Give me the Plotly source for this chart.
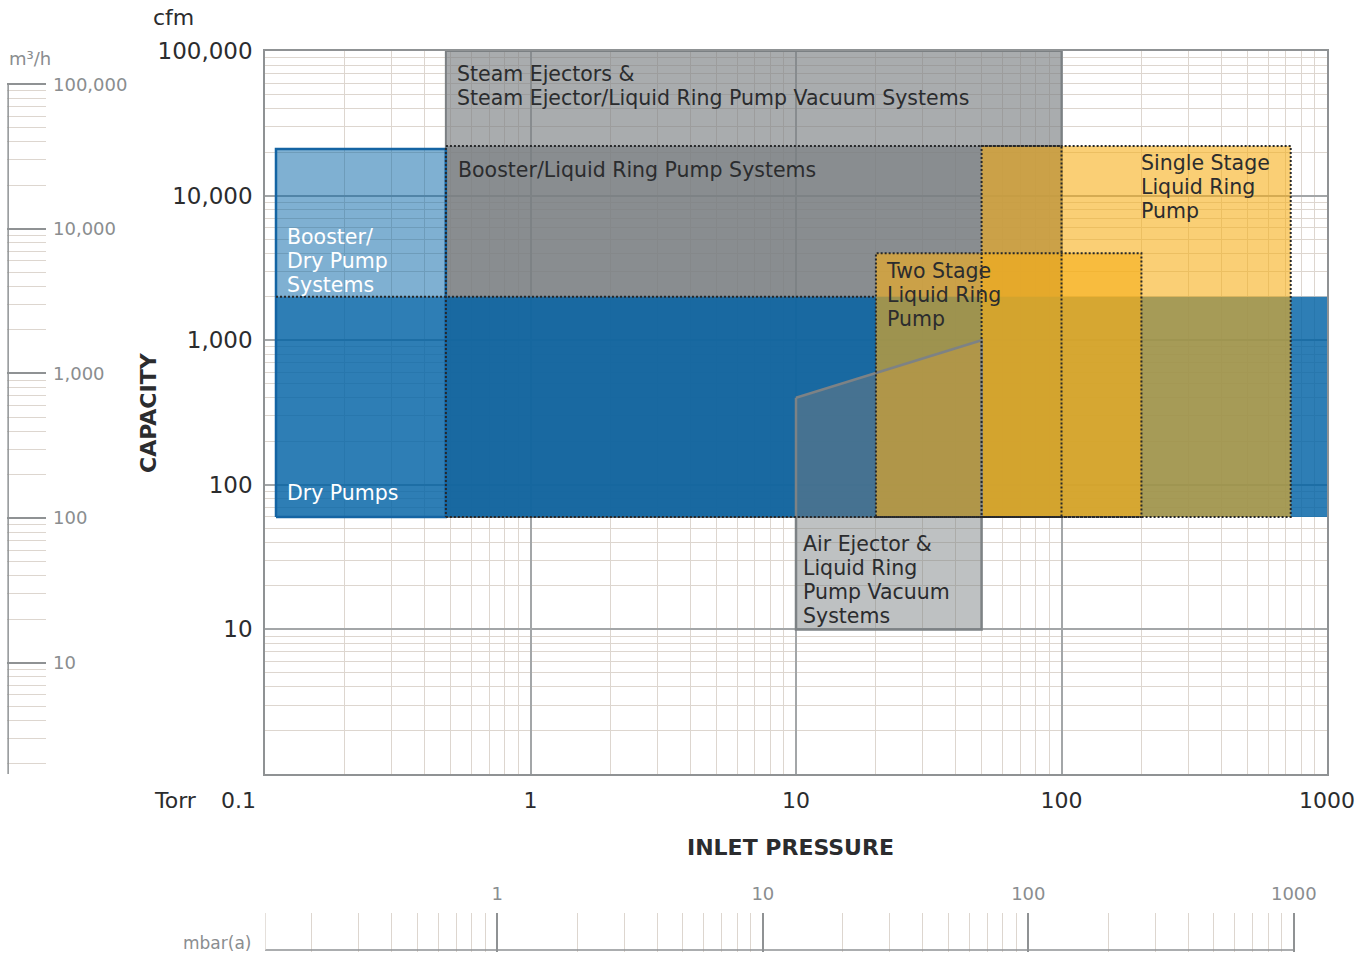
import math
import plotly.graph_objects as go

# Operating envelopes: inlet pressure range (Torr) and capacity range (cfm)
steam_p = [0.48, 100]
steam_q = [60, 100000]
blrp_p = [0.48, 100]
blrp_q = [60, 22000]
bdry_p = [0.11, 0.48]
bdry_q = [2000, 21000]
dry_p = [0.11, 1000]
dry_q = [60, 2000]
single_p = [50, 730]
single_q = [60, 22000]
two_p = [20, 200]
two_q = [60, 4000]
air_p = [10, 50, 50, 10, 10]
air_q = [400, 1000, 10, 10, 400]

# Axis extents and unit conversions
torr_range = [0.1, 1000]
cfm_range = [1, 100000]
CFM_TO_M3H = 1.699
TORR_TO_MBAR = 1.33322

W, H = 1370, 955
FONT = "DejaVu Sans"
DARK = "#2b2c2e"
GREY_TXT = "#8a8d8f"
GRID_MAJOR = "#a3a6a8"
GRID_MINOR = "#ddd6cf"
AXIS_LINE = "#8f9294"


def px(x):
    return x / W


def py(y):
    return 1 - y / H


def rect(p, q):
    return [p[0], p[1], p[1], p[0], p[0]], [q[0], q[0], q[1], q[1], q[0]]


fig = go.Figure()


def area(p, q, fill, line_color=None, line_width=0, dash="solid"):
    xs, ys = (p, q) if len(p) > 2 else rect(p, q)
    fig.add_trace(go.Scatter(
        x=xs, y=ys, mode="lines", fill="toself" if fill else None,
        fillcolor=fill, hoverinfo="skip", showlegend=False,
        line=dict(color=line_color or "rgba(0,0,0,0)", width=line_width, dash=dash),
    ))


GREY = "120,125,128"
BLUE = "0,97,165"
ORANGE = "246,175,25"

# filled envelopes, back to front
area(steam_p, steam_q, f"rgba({GREY},0.64)", "#7b8083", 2)
area(blrp_p, blrp_q, f"rgba({GREY},0.65)")
area(dry_p, dry_q, f"rgba({BLUE},0.82)")
area(bdry_p, bdry_q, f"rgba({BLUE},0.5)")
area(air_p, air_q, f"rgba({GREY},0.48)")
area(single_p, single_q, f"rgba({ORANGE},0.6)")
area(two_p, two_q, f"rgba({ORANGE},0.6)")

# outlines
area(air_p, air_q, None, "#7d8285", 2.5)
area(bdry_p, [dry_q[0], bdry_q[1]], None, "#1464a3", 2.5)
area(blrp_p, blrp_q, None, "#26282a", 2, "2px,2px")
area(single_p, single_q, None, "#26282a", 2, "2px,2px")
area(two_p, two_q, None, "#26282a", 2, "2px,2px")
fig.add_trace(go.Scatter(
    x=[dry_p[0], two_p[0]], y=[dry_q[1], dry_q[1]], mode="lines",
    hoverinfo="skip", showlegend=False,
    line=dict(color="#26282a", width=2, dash="2px,2px"),
))

# mbar(a) scale baseline and left edge
mb_lo = torr_range[0] * TORR_TO_MBAR
fig.add_trace(go.Scatter(
    x=[mb_lo, 1000], y=[0, 0], xaxis="x2", yaxis="y2", mode="lines",
    hoverinfo="skip", showlegend=False, line=dict(color=AXIS_LINE, width=1.5),
))
fig.add_trace(go.Scatter(
    x=[mb_lo, mb_lo], y=[0, 1], xaxis="x2", yaxis="y2", mode="lines",
    hoverinfo="skip", showlegend=False, line=dict(color=GRID_MINOR, width=1.5),
))

# m3/h scale spine
m3_lo = cfm_range[0] * CFM_TO_M3H
fig.add_trace(go.Scatter(
    x=[0, 0], y=[m3_lo, 100000], xaxis="x3", yaxis="y3", mode="lines",
    hoverinfo="skip", showlegend=False, line=dict(color=AXIS_LINE, width=1.5),
))

LINE_GAP = 24          # px between label lines
GLYPH = 20.5           # label glyph size


# region labels: one text block per envelope, placed by its centre relative to a corner.
# The block's own font size sets the line pitch (1.3 em); glyphs are sized by an inner span.
def label(lines, p, q, dx, center_dy, color=DARK):
    body = "<br>".join(f'<span style="font-size:{GLYPH}px">{t}</span>' for t in lines)
    fig.add_annotation(
        x=math.log10(p), y=math.log10(q), xref="x", yref="y",
        text=body, showarrow=False, xanchor="left", yanchor="middle", align="left",
        xshift=dx, yshift=center_dy,
        font=dict(family=FONT, size=LINE_GAP / 1.3, color=color),
    )


label(["Steam Ejectors &", "Steam Ejector/Liquid Ring Pump Vacuum Systems"],
      steam_p[0], steam_q[1], 9, -35)
label(["Booster/Liquid Ring Pump Systems"], blrp_p[0], blrp_q[1], 10, -24)
label(["Single Stage", "Liquid Ring", "Pump"], two_p[1], single_q[1], -2, -41)
label(["Booster/", "Dry Pump", "Systems"], bdry_p[0], bdry_q[0], 9, 36, "white")
label(["Two Stage", "Liquid Ring", "Pump"], two_p[0], two_q[1], 8, -42)
label(["Dry Pumps"], dry_p[0], dry_q[0], 9, 24, "white")
label(["Air Ejector &", "Liquid Ring", "Pump Vacuum", "Systems"],
      air_p[0], air_q[2], 5, 49)


def ptext(t, x, y, size, color=DARK, xanchor="left", angle=0, bold=False):
    fig.add_annotation(
        x=px(x), y=py(y), xref="paper", yref="paper", text=f"<b>{t}</b>" if bold else t,
        showarrow=False, xanchor=xanchor, yanchor="middle", textangle=angle,
        font=dict(family=FONT, size=size, color=color),
    )


ptext("cfm", 151, 18, 22)
ptext("Torr", 152, 800, 22)
ptext("0.1", 238, 800, 22, xanchor="center")
ptext("CAPACITY", 148, 413, 22, xanchor="center", angle=-90, bold=True)
ptext("INLET PRESSURE", 790, 847, 22, xanchor="center", bold=True)
ptext("m³/h", 7, 58, 18, GREY_TXT)
ptext("mbar(a)", 253, 943, 17, GREY_TXT, xanchor="right")

x_dom = [px(265), px(1327)]
y_dom = [py(774), py(51)]
minor_grid = dict(dtick="D1", showgrid=True, gridcolor=GRID_MINOR, gridwidth=1, ticks="")

fig.update_layout(
    width=W, height=H, margin=dict(l=0, r=0, t=0, b=0, autoexpand=False),
    paper_bgcolor="white", plot_bgcolor="white", showlegend=False,
    font=dict(family=FONT, color=DARK),
    xaxis=dict(
        type="log", range=[math.log10(v) for v in torr_range], domain=x_dom,
        dtick=1, tickformat="~g", labelalias={"0.1": " "},
        showgrid=True, gridcolor=GRID_MAJOR, gridwidth=1.5, minor=minor_grid,
        showline=True, mirror=True, linecolor=AXIS_LINE, linewidth=1.5,
        ticks="", ticklabelstandoff=6, tickfont=dict(size=22, color=DARK),
        zeroline=False, anchor="y", automargin=False,
    ),
    yaxis=dict(
        type="log", range=[math.log10(v) for v in cfm_range], domain=y_dom,
        dtick=1, tickformat=",", labelalias={"1": " "},
        showgrid=True, gridcolor=GRID_MAJOR, gridwidth=1.5, minor=minor_grid,
        showline=True, mirror=True, linecolor=AXIS_LINE, linewidth=1.5,
        ticks="", ticklabelstandoff=6, tickfont=dict(size=23, color=DARK),
        zeroline=False, anchor="x", automargin=False,
    ),
    xaxis2=dict(
        type="log", range=[math.log10(mb_lo), math.log10(1000 * TORR_TO_MBAR)],
        domain=x_dom, anchor="y2", side="top", dtick=1, tickformat="~g",
        showgrid=True, gridcolor=AXIS_LINE, gridwidth=1.5, minor=minor_grid,
        showline=False, ticks="", ticklabelstandoff=8,
        tickfont=dict(size=18, color=GREY_TXT), zeroline=False, automargin=False,
    ),
    yaxis2=dict(
        domain=[py(951.5), py(913)], range=[-0.04, 1], anchor="x2",
        visible=False, showgrid=False, zeroline=False, automargin=False,
    ),
    xaxis3=dict(
        domain=[px(7), px(46)], range=[-0.03, 1], anchor="y3",
        visible=False, showgrid=False, zeroline=False, automargin=False,
    ),
    yaxis3=dict(
        type="log", domain=y_dom, anchor="x3", side="right",
        range=[math.log10(cfm_range[0] * CFM_TO_M3H), math.log10(cfm_range[1] * CFM_TO_M3H)],
        dtick=1, tickformat=",",
        showgrid=True, gridcolor=AXIS_LINE, gridwidth=1.5, minor=minor_grid,
        showline=False, ticks="", ticklabelstandoff=6,
        tickfont=dict(size=18, color=GREY_TXT), zeroline=False, automargin=False,
    ),
)

fig.write_html("out.html")
